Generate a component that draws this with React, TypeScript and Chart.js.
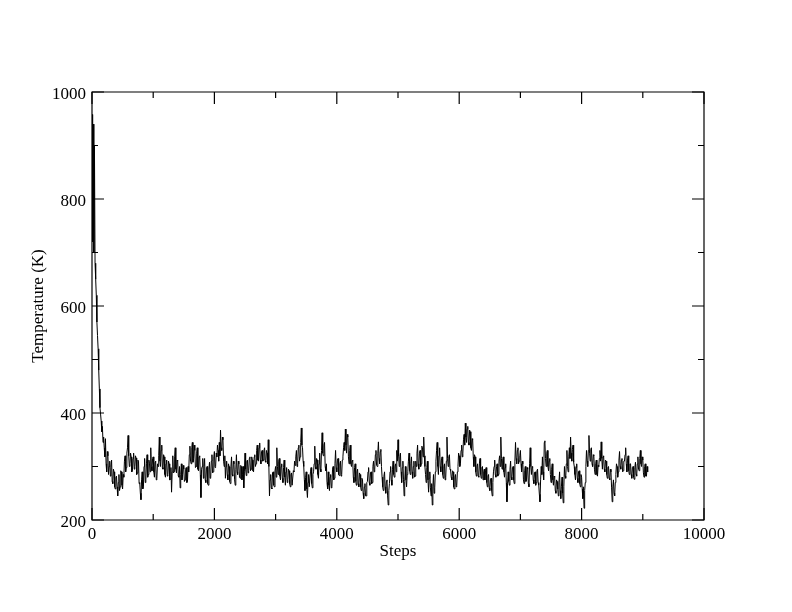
import React, { useEffect, useRef } from "react";
import { Chart, registerables } from "chart.js";

Chart.register(...registerables);

// Simulation output: temperature (K) sampled every STEP_INTERVAL steps
const STEP_INTERVAL = 10;
const temperature = [
  958, 720, 940, 700, 900, 680, 650, 620, 570, 545, 520, 480, 445, 410, 398, 385, 365, 375, 345, 355,
  335, 318, 352, 305, 290, 328, 320, 285, 300, 310, 282, 298, 312, 272, 268, 295, 290, 262, 258, 280,
  282, 262, 245, 270, 285, 255, 262, 292, 290, 265, 258, 285, 280, 310, 320, 290, 298, 325, 335, 358,
  320, 300, 305, 325, 318, 290, 292, 315, 325, 295, 300, 320, 316, 285, 288, 312, 310, 268, 270, 250,
  238, 275, 290, 258, 262, 300, 315, 270, 275, 305, 322, 280, 285, 312, 305, 290, 335, 300, 292, 315,
  318, 290, 280, 308, 310, 275, 278, 305, 300, 320, 355, 310, 300, 330, 340, 298, 295, 322, 318, 285,
  280, 305, 312, 282, 285, 310, 305, 275, 276, 298, 252, 290, 320, 288, 290, 318, 335, 295, 288, 312,
  310, 282, 280, 300, 260, 285, 305, 275, 285, 302, 295, 272, 275, 295, 298, 270, 272, 300, 290, 322,
  338, 310, 305, 335, 345, 308, 315, 340, 330, 298, 300, 325, 335, 295, 292, 318, 320, 285, 242, 295,
  300, 315, 278, 300, 315, 275, 270, 298, 300, 268, 265, 295, 308, 278, 280, 310, 322, 288, 290, 318,
  328, 298, 300, 325, 318, 340, 330, 310, 345, 320, 368, 335, 330, 355, 350, 310, 300, 320, 278, 300,
  310, 285, 275, 305, 300, 272, 268, 300, 318, 285, 282, 310, 305, 275, 265, 295, 322, 290, 285, 310,
  305, 280, 278, 302, 300, 275, 285, 300, 260, 290, 325, 295, 283, 310, 312, 288, 292, 315, 318, 292,
  295, 318, 312, 292, 290, 318, 322, 300, 305, 330, 340, 312, 310, 335, 344, 312, 305, 328, 330, 310,
  312, 330, 335, 310, 308, 330, 325, 305, 350, 300, 245, 275, 285, 260, 258, 288, 290, 265, 262, 292,
  300, 280, 335, 300, 285, 310, 315, 282, 275, 300, 305, 278, 270, 298, 312, 280, 265, 290, 298, 270,
  275, 295, 292, 268, 262, 285, 288, 265, 265, 292, 290, 310, 302, 318, 330, 300, 305, 335, 340, 310,
  318, 345, 372, 340, 335, 310, 300, 275, 255, 280, 290, 258, 242, 270, 285, 262, 262, 290, 298, 268,
  260, 285, 290, 305, 338, 300, 295, 315, 312, 285, 278, 305, 325, 295, 290, 330, 363, 325, 320, 340,
  345, 300, 292, 305, 270, 258, 290, 265, 255, 280, 285, 260, 262, 295, 300, 275, 278, 305, 330, 298,
  290, 312, 315, 285, 283, 305, 310, 282, 285, 312, 318, 335, 345, 330, 370, 340, 325, 360, 355, 318,
  305, 330, 340, 305, 300, 310, 312, 280, 270, 298, 305, 272, 265, 290, 295, 268, 262, 288, 285, 262,
  255, 278, 275, 250, 240, 262, 268, 245, 245, 270, 272, 290, 298, 270, 265, 288, 290, 268, 270, 300,
  310, 290, 295, 322, 330, 302, 300, 325, 346, 315, 305, 328, 332, 300, 280, 262, 255, 282, 290, 262,
  250, 272, 275, 245, 228, 255, 268, 290, 300, 275, 265, 295, 310, 285, 280, 300, 305, 290, 330, 310,
  350, 320, 300, 318, 325, 290, 270, 298, 310, 275, 245, 272, 300, 275, 262, 285, 290, 310, 325, 292,
  285, 305, 318, 290, 278, 300, 310, 280, 282, 310, 300, 325, 340, 305, 295, 325, 330, 300, 305, 338,
  335, 318, 355, 320, 300, 285, 270, 298, 310, 275, 252, 278, 290, 260, 245, 268, 228, 262, 285, 250,
  260, 290, 310, 330, 345, 300, 285, 320, 335, 300, 290, 312, 318, 285, 278, 300, 305, 275, 280, 310,
  355, 315, 300, 318, 322, 295, 292, 280, 275, 292, 290, 262, 258, 280, 285, 262, 265, 290, 300, 325,
  320, 300, 305, 330, 340, 318, 325, 350, 360, 340, 381, 355, 345, 370, 375, 345, 340, 368, 365, 335,
  330, 352, 350, 318, 300, 322, 318, 290, 282, 300, 305, 282, 280, 305, 315, 285, 278, 298, 300, 275,
  290, 295, 275, 292, 298, 270, 262, 282, 285, 260, 255, 275, 278, 255, 245, 270, 290, 300, 312, 285,
  280, 300, 305, 282, 285, 310, 320, 300, 355, 315, 295, 312, 318, 290, 280, 298, 305, 270, 234, 268,
  290, 272, 265, 295, 310, 280, 275, 298, 300, 275, 268, 310, 345, 315, 305, 330, 335, 305, 310, 320,
  330, 305, 290, 310, 305, 275, 268, 292, 300, 272, 275, 298, 295, 268, 262, 305, 335, 300, 285, 300,
  298, 275, 268, 288, 290, 265, 270, 292, 295, 270, 265, 248, 234, 275, 300, 285, 318, 290, 275, 345,
  348, 315, 300, 325, 330, 300, 292, 310, 315, 285, 270, 295, 305, 275, 265, 282, 280, 255, 250, 275,
  272, 258, 245, 270, 290, 255, 240, 262, 280, 250, 232, 262, 300, 282, 278, 305, 330, 300, 290, 318,
  335, 315, 355, 325, 310, 332, 340, 308, 300, 285, 275, 298, 305, 278, 270, 290, 292, 268, 262, 285,
  280, 258, 240, 262, 222, 255, 270, 300, 330, 310, 300, 330, 358, 325, 310, 332, 335, 305, 300, 322,
  320, 295, 285, 305, 312, 285, 282, 302, 300, 315, 330, 310, 346, 315, 295, 318, 320, 295, 290, 312,
  310, 285, 278, 298, 300, 278, 275, 295, 290, 260, 234, 262, 275, 250, 245, 270, 285, 305, 300, 280,
  290, 312, 328, 300, 295, 312, 315, 290, 292, 310, 310, 322, 335, 305, 290, 312, 320, 292, 285, 305,
  305, 285, 278, 298, 300, 280, 276, 298, 308, 285, 282, 305, 318, 295, 292, 315, 330, 305, 300, 318,
  312, 288, 280, 300, 305, 282, 282, 300, 290,
];

const xMajorTicks = [0, 2000, 4000, 6000, 8000, 10000];
const xMinorTicks = [1000, 3000, 5000, 7000, 9000];
const yMajorTicks = [200, 400, 600, 800, 1000];
const yMinorTicks = [300, 500, 700, 900];

const X_TITLE = "Steps";
const Y_TITLE = "Temperature (K)";
const FONT = "'Liberation Serif', 'Times New Roman', serif";

const framePlugin = {
  id: "graceFrame",
  afterDraw(chart: any) {
    const { ctx, chartArea } = chart;
    const { left, right, top, bottom } = chartArea;
    const xs = chart.scales.x;
    const ys = chart.scales.y;
    ctx.save();
    ctx.strokeStyle = "#000";
    ctx.lineWidth = 1.2;
    ctx.beginPath();
    ctx.rect(left, top, right - left, bottom - top);
    ctx.stroke();
    const major = 12;
    const minor = 6;
    ctx.beginPath();
    const vt = (v: number, len: number) => {
      const px = xs.getPixelForValue(v);
      ctx.moveTo(px, bottom);
      ctx.lineTo(px, bottom - len);
      ctx.moveTo(px, top);
      ctx.lineTo(px, top + len);
    };
    const ht = (v: number, len: number) => {
      const py = ys.getPixelForValue(v);
      ctx.moveTo(left, py);
      ctx.lineTo(left + len, py);
      ctx.moveTo(right, py);
      ctx.lineTo(right - len, py);
    };
    xMajorTicks.forEach((v) => vt(v, major));
    xMinorTicks.forEach((v) => vt(v, minor));
    yMajorTicks.forEach((v) => ht(v, major));
    yMinorTicks.forEach((v) => ht(v, minor));
    ctx.stroke();
    ctx.restore();
  },
};

export default function App() {
  const canvasRef = useRef<HTMLCanvasElement | null>(null);

  useEffect(() => {
    if (!canvasRef.current) return;
    const points = temperature.map((t, i) => ({ x: i * STEP_INTERVAL, y: t }));
    const chart = new Chart(canvasRef.current, {
      type: "line",
      data: {
        datasets: [
          {
            data: points,
            borderColor: "#000",
            borderWidth: 1,
            pointRadius: 0,
            tension: 0,
            fill: false,
          },
        ],
      },
      plugins: [framePlugin],
      options: {
        animation: false,
        responsive: false,
        devicePixelRatio: 1,
        layout: { padding: { left: 0, top: 92, right: 88, bottom: 0 } },
        plugins: {
          legend: { display: false },
          tooltip: { enabled: false },
        },
        scales: {
          x: {
            type: "linear",
            min: 0,
            max: 10000,
            afterBuildTicks: (s: any) => {
              s.ticks = xMajorTicks.map((v) => ({ value: v }));
            },
            afterFit: (s: any) => {
              s.height = 92;
            },
            grid: { display: false, drawTicks: false },
            border: { display: false },
            ticks: {
              color: "#000",
              font: { family: FONT, size: 17 },
              padding: 4,
              maxRotation: 0,
              autoSkip: false,
              callback: (v: any) => String(v),
            },
            title: {
              display: true,
              text: X_TITLE,
              color: "#000",
              font: { family: FONT, size: 17 },
              padding: { top: 0, bottom: 50 },
            },
          },
          y: {
            type: "linear",
            min: 200,
            max: 1000,
            afterBuildTicks: (s: any) => {
              s.ticks = yMajorTicks.map((v) => ({ value: v }));
            },
            afterFit: (s: any) => {
              s.width = 92;
            },
            grid: { display: false, drawTicks: false },
            border: { display: false },
            ticks: {
              color: "#000",
              font: { family: FONT, size: 17 },
              padding: 6,
              labelOffset: 3,
              autoSkip: false,
              callback: (v: any) => String(v),
            },
            title: {
              display: true,
              text: Y_TITLE,
              color: "#000",
              font: { family: FONT, size: 17 },
              padding: { top: 28, bottom: 0 },
            },
          },
        },
      },
    } as any);
    return () => chart.destroy();
  }, []);

  return (
    <div style={{ position: "absolute", left: 0, top: 0, width: 792, height: 612, background: "#fff" }}>
      <canvas ref={canvasRef} width={792} height={612} />
    </div>
  );
}
